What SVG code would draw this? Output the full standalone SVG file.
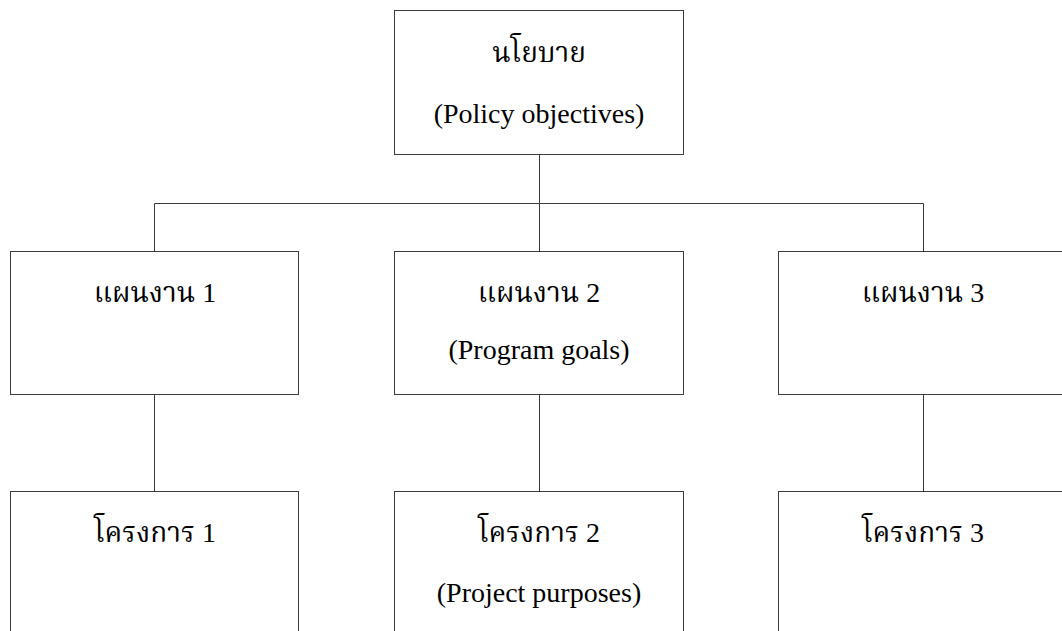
<svg xmlns="http://www.w3.org/2000/svg" width="1062" height="631" viewBox="0 0 1062 631">
<style>
.box{fill:#ffffff;stroke:#3c3c3c;stroke-width:1}
.con{fill:none;stroke:#3c3c3c;stroke-width:1}
text{font-family:"Liberation Serif","Noto Serif Thai","Noto Sans Thai","DejaVu Sans",serif;font-size:28px;fill:#000;text-anchor:middle}
</style>
<rect width="1062" height="631" fill="#ffffff"/>
<g id="connectors">
<line class="con" x1="539.5" y1="154.5" x2="539.5" y2="251.5"/>
<line class="con" x1="154.5" y1="203.5" x2="923.5" y2="203.5"/>
<line class="con" x1="154.5" y1="203.5" x2="154.5" y2="251.5"/>
<line class="con" x1="923.5" y1="203.5" x2="923.5" y2="251.5"/>
<line class="con" x1="154.5" y1="394.5" x2="154.5" y2="491.5"/>
<line class="con" x1="539.5" y1="394.5" x2="539.5" y2="491.5"/>
<line class="con" x1="923.5" y1="394.5" x2="923.5" y2="491.5"/>
</g>
<g id="policy">
<rect class="box" x="394.5" y="10.5" width="289" height="144"/>
<text x="539" y="62">นโยบาย</text>
<text x="539" y="123">(Policy objectives)</text>
</g>
<g id="program1">
<rect class="box" x="10.5" y="251.5" width="288" height="143"/>
<text x="155" y="302">แผนงาน 1</text>
</g>
<g id="program2">
<rect class="box" x="394.5" y="251.5" width="289" height="143"/>
<text x="539" y="302">แผนงาน 2</text>
<text x="539" y="359">(Program goals)</text>
</g>
<g id="program3">
<rect class="box" x="778.5" y="251.5" width="290" height="143"/>
<text x="923" y="302">แผนงาน 3</text>
</g>
<g id="project1">
<rect class="box" x="10.5" y="491.5" width="288" height="150"/>
<text x="155" y="542">โครงการ 1</text>
</g>
<g id="project2">
<rect class="box" x="394.5" y="491.5" width="289" height="150"/>
<text x="539" y="542">โครงการ 2</text>
<text x="539" y="602">(Project purposes)</text>
</g>
<g id="project3">
<rect class="box" x="778.5" y="491.5" width="290" height="150"/>
<text x="923" y="542">โครงการ 3</text>
</g>
</svg>
